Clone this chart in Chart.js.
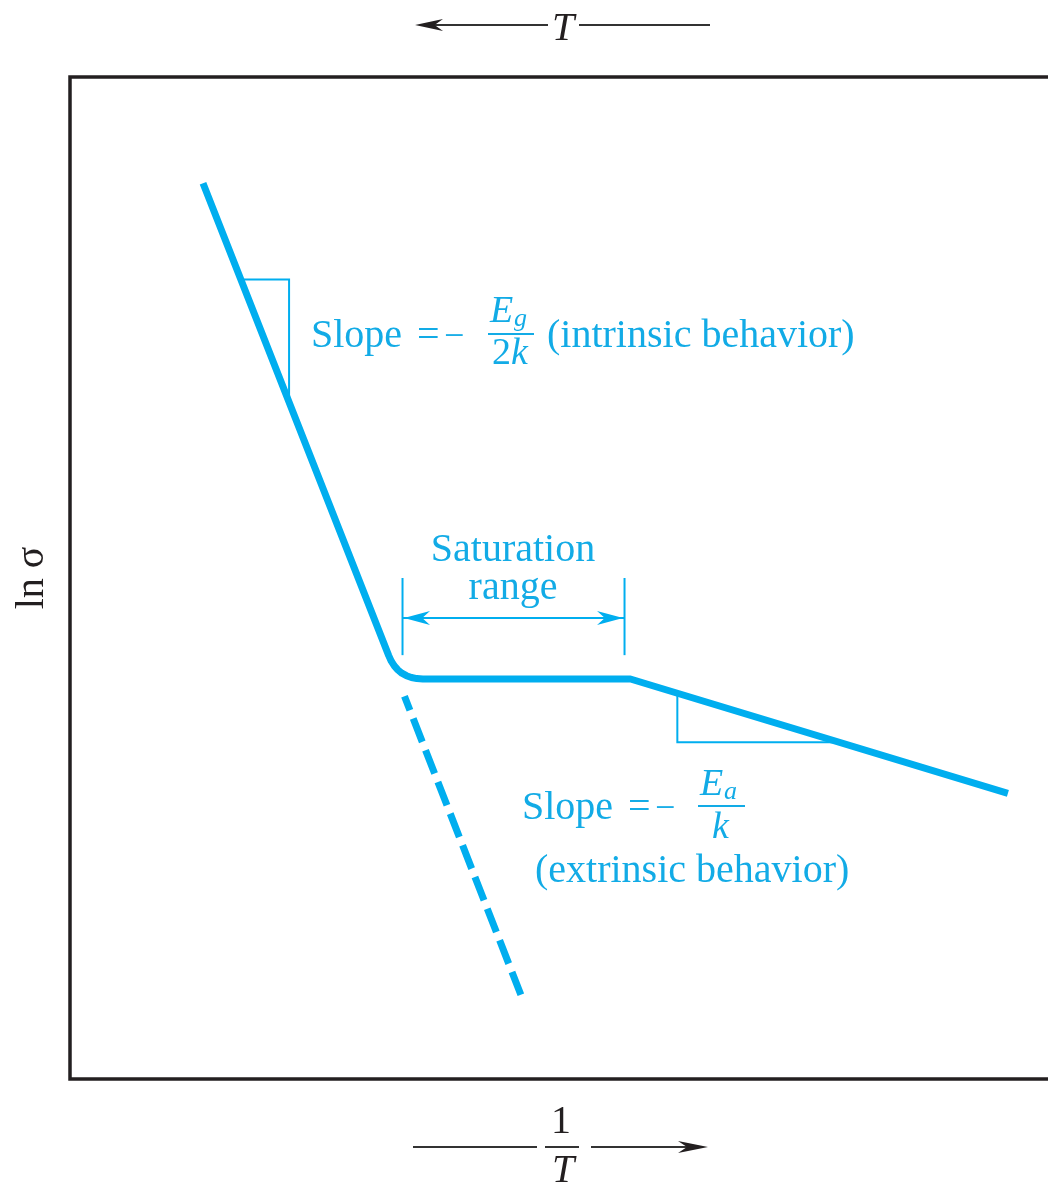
<!DOCTYPE html>
<html>
<head>
<meta charset="utf-8">
<script src="https://cdn.jsdelivr.net/npm/chart.js@4/dist/chart.umd.min.js"></script>
<style>
  html, body { margin: 0; padding: 0; background: #fff; }
  canvas { display: block; }
</style>
</head>
<body>
<canvas id="c" width="1048" height="1184"></canvas>
<script>
// Conductivity of a doped semiconductor: ln σ against 1/T (arbitrary units)
// Main curve: intrinsic region, rounded knee, saturation plateau, extrinsic region
const curveX = [1.360, 3.259, 3.285, 3.316, 3.352, 3.393, 3.440, 3.491, 3.547, 3.608, 5.730, 9.590];
const curveY = [8.940, 4.225, 4.170, 4.123, 4.083, 4.050, 4.025, 4.007, 3.996, 3.992, 3.992, 2.850];

// Intrinsic line continued below the knee (dashed)
const extX = [3.42, 4.61];
const extY = [3.82, 0.84];

// Slope triangles
const intrTriX = [1.75, 2.24, 2.24];
const intrTriY = [7.98, 7.98, 6.76];
const extrTriX = [6.21, 6.21, 7.86];
const extrTriY = [3.85, 3.36, 3.36];

// Saturation range limits and bracket heights
const satX = [3.40, 5.67];
const satTickY = [4.23, 5.00];
const satArrowY = [4.60, 4.60];

const cyan = '#00AEEF';
const textCyan = '#12ABE6';
const ink = '#231F20';
const serif = '"Liberation Serif", "Times New Roman", serif';

function pts(xs, ys) { return xs.map((x, i) => ({ x: x, y: ys[i] })); }

function thin(data) {
  return { data: data, showLine: true, borderColor: cyan, borderWidth: 2,
           pointRadius: 0, borderJoinStyle: 'miter', borderCapStyle: 'butt', tension: 0 };
}

// Barbed arrowhead with its tip at (x, y), pointing along (dx, dy)
function arrowHead(ctx, x, y, dx, dy, len, half, color) {
  const px = -dy, py = dx;
  ctx.save();
  ctx.fillStyle = color;
  ctx.beginPath();
  ctx.moveTo(x, y);
  ctx.lineTo(x - dx * len + px * half, y - dy * len + py * half);
  ctx.lineTo(x - dx * len * 0.7, y - dy * len * 0.7);
  ctx.lineTo(x - dx * len - px * half, y - dy * len - py * half);
  ctx.closePath();
  ctx.fill();
  ctx.restore();
}

function text(ctx, str, x, y, font, align) {
  ctx.font = font;
  ctx.textAlign = align || 'left';
  ctx.fillText(str, x, y);
}

function hline(ctx, x1, x2, y, w, color) {
  ctx.save();
  ctx.strokeStyle = color;
  ctx.lineWidth = w;
  ctx.beginPath();
  ctx.moveTo(x1, y);
  ctx.lineTo(x2, y);
  ctx.stroke();
  ctx.restore();
}

const decorations = {
  id: 'decorations',
  afterDraw(chart) {
    const ctx = chart.ctx;
    const a = chart.chartArea;
    const xs = chart.scales.x, ys = chart.scales.y;

    // Plot frame (open on the right)
    ctx.save();
    ctx.strokeStyle = ink;
    ctx.lineWidth = 3.5;
    ctx.beginPath();
    ctx.moveTo(chart.width, a.top);
    ctx.lineTo(a.left, a.top);
    ctx.lineTo(a.left, a.bottom);
    ctx.lineTo(chart.width, a.bottom);
    ctx.stroke();
    ctx.restore();

    // Arrowheads of the saturation bracket
    const ay = ys.getPixelForValue(satArrowY[0]);
    const ax1 = xs.getPixelForValue(satX[0]) + 1.5;
    const ax2 = xs.getPixelForValue(satX[1]) - 1.5;
    arrowHead(ctx, ax1, ay, -1, 0, 26, 7, cyan);
    arrowHead(ctx, ax2, ay, 1, 0, 26, 7, cyan);

    ctx.save();
    ctx.fillStyle = textCyan;
    ctx.textBaseline = 'alphabetic';

    // Intrinsic slope label
    text(ctx, 'Slope', 311, 347, '40px ' + serif);
    text(ctx, '=', 417, 347, '40px ' + serif);
    text(ctx, '\u2212', 444, 347, '36px ' + serif);
    text(ctx, 'E', 490, 322, 'italic 38px ' + serif);
    text(ctx, 'g', 514, 326, 'italic 26px ' + serif);
    hline(ctx, 488, 534, 334, 2, textCyan);
    text(ctx, '2', 492, 364, '38px ' + serif);
    text(ctx, 'k', 511, 364, 'italic 38px ' + serif);
    text(ctx, '(intrinsic behavior)', 547, 347, '40px ' + serif);

    // Saturation range label
    text(ctx, 'Saturation', 513, 561, '40px ' + serif, 'center');
    text(ctx, 'range', 513, 599, '40px ' + serif, 'center');

    // Extrinsic slope label
    text(ctx, 'Slope', 522, 819, '40px ' + serif);
    text(ctx, '=', 628, 819, '40px ' + serif);
    text(ctx, '\u2212', 655, 819, '36px ' + serif);
    text(ctx, 'E', 700, 795, 'italic 38px ' + serif);
    text(ctx, 'a', 724, 799, 'italic 26px ' + serif);
    hline(ctx, 698, 745, 806, 2, textCyan);
    text(ctx, 'k', 712, 838, 'italic 38px ' + serif);
    text(ctx, '(extrinsic behavior)', 535, 882, '40px ' + serif);
    ctx.restore();

    // Temperature direction above the frame
    ctx.save();
    ctx.fillStyle = ink;
    hline(ctx, 430, 548, 25, 2, '#333');
    hline(ctx, 579, 710, 25, 2, '#333');
    arrowHead(ctx, 415, 25, -1, 0, 28, 6, ink);
    text(ctx, 'T', 563, 40, 'italic 40px ' + serif, 'center');

    // 1/T direction below the frame
    hline(ctx, 413, 537, 1147, 2, '#333');
    hline(ctx, 591, 694, 1147, 2, '#333');
    arrowHead(ctx, 708, 1147, 1, 0, 30, 6, ink);
    text(ctx, '1', 561, 1133, '40px ' + serif, 'center');
    hline(ctx, 545, 579, 1147, 2, '#333');
    text(ctx, 'T', 563, 1182, 'italic 40px ' + serif, 'center');

    // Vertical axis label
    ctx.translate(43, 578);
    ctx.rotate(-Math.PI / 2);
    text(ctx, 'ln \u03C3', 0, 0, '40px ' + serif, 'center');
    ctx.restore();
  }
};

new Chart(document.getElementById('c'), {
  type: 'scatter',
  data: {
    datasets: [
      thin(pts(intrTriX, intrTriY)),
      thin(pts(extrTriX, extrTriY)),
      thin(pts([satX[0], satX[0]], satTickY)),
      thin(pts([satX[1], satX[1]], satTickY)),
      thin(pts(satX, satArrowY)),
      {
        data: pts(extX, extY), showLine: true, borderColor: cyan, borderWidth: 7,
        borderDash: [25, 9], borderDashOffset: 10, borderCapStyle: 'butt',
        pointRadius: 0, tension: 0
      },
      {
        data: pts(curveX, curveY), showLine: true, borderColor: cyan, borderWidth: 7,
        borderJoinStyle: 'round', borderCapStyle: 'butt', pointRadius: 0, tension: 0
      }
    ]
  },
  options: {
    responsive: false,
    animation: false,
    events: [],
    layout: { padding: { left: 70, top: 77, right: 0, bottom: 105 } },
    plugins: { legend: { display: false }, tooltip: { enabled: false } },
    scales: {
      x: { type: 'linear', min: 0, max: 10, display: false },
      y: { type: 'linear', min: 0, max: 10, display: false }
    }
  },
  plugins: [decorations]
});
</script>
</body>
</html>
